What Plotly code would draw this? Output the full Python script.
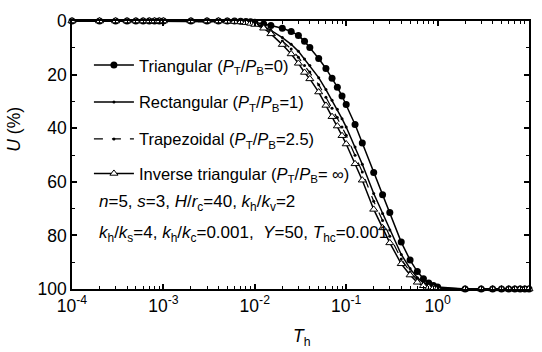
import plotly.graph_objects as go

# ---- data ----
T = [1e-4, 2e-4, 3e-4, 4e-4, 5e-4, 6e-4, 7e-4, 8e-4, 9e-4,
     1e-3, 2e-3, 3e-3, 4e-3, 5e-3, 6e-3, 7e-3, 8e-3, 9e-3,
     0.01, 0.0125, 0.015, 0.02, 0.025, 0.03, 0.035, 0.04, 0.05, 0.06, 0.07, 0.08, 0.09,
     0.1, 0.125, 0.15, 0.2, 0.25, 0.3, 0.4, 0.5, 0.6, 0.7, 0.8, 0.9,
     1, 2, 3, 4, 5, 6, 7, 8, 9, 10]

U_triangular = [0, 0, 0, 0, 0, 0, 0, 0, 0,
                0, 0, 0, 0, 0, 0, 0.05, 0.15, 0.3,
                0.5, 1.1, 1.7, 2.7, 3.9, 5.4, 7.6, 9.9, 14.0, 17.7, 21.4, 24.7, 28.0,
                31.2, 38.6, 45.5, 56.5, 64.8, 71.5, 82.5, 89.2, 93.5, 96.2, 97.8, 98.7,
                99.3, 100, 100, 100, 100, 100, 100, 100, 100, 100]

U_rectangular = [0, 0, 0, 0, 0, 0, 0, 0, 0,
                 0, 0, 0, 0, 0.06, 0.11, 0.22, 0.41, 0.64,
                 0.96, 2.0, 3.47, 6.18, 8.69, 11.33, 14.17, 16.61, 21.13, 25.57, 29.55, 32.97, 36.44,
                 39.58, 46.98, 53.42, 64.37, 71.87, 77.94, 87.12, 92.39, 95.78, 97.68, 98.71, 99.27,
                 99.64, 100, 100, 100, 100, 100, 100, 100, 100, 100]

U_trapezoidal = [0, 0, 0, 0, 0, 0, 0, 0, 0,
                 0, 0, 0, 0, 0.08, 0.16, 0.28, 0.5, 0.77,
                 1.12, 2.35, 4.12, 7.46, 10.45, 13.51, 16.63, 19.05, 23.75, 28.46, 32.55, 36.01, 39.54,
                 42.67, 50.07, 56.34, 67.26, 74.47, 80.31, 88.82, 93.57, 96.62, 98.23, 99.05, 99.48,
                 99.77, 100, 100, 100, 100, 100, 100, 100, 100, 100]

U_inverse = [0, 0, 0, 0, 0, 0, 0, 0, 0,
             0, 0, 0, 0, 0.1, 0.2, 0.35, 0.6, 0.9,
             1.3, 2.7, 4.8, 8.8, 12.3, 15.8, 19.2, 21.6, 26.5, 31.5, 35.7, 39.2, 42.8,
             45.9, 53.3, 59.4, 70.3, 77.2, 82.8, 90.6, 94.8, 97.5, 98.8, 99.4, 99.7,
             99.9, 100, 100, 100, 100, 100, 100, 100, 100, 100]

names = ["Triangular (<i>P</i><sub>T</sub>/<i>P</i><sub>B</sub>=0)",
         "Rectangular (<i>P</i><sub>T</sub>/<i>P</i><sub>B</sub>=1)",
         "Trapezoidal (<i>P</i><sub>T</sub>/<i>P</i><sub>B</sub>=2.5)",
         "Inverse triangular (<i>P</i><sub>T</sub>/<i>P</i><sub>B</sub>= \u221e)"]

x_tickvals = [1e-4, 1e-3, 1e-2, 1e-1, 1, 10]
x_ticktext = ["10<sup>-4</sup>", "10<sup>-3</sup>", "10<sup>-2</sup>",
              "10<sup>-1</sup>", "10<sup>0</sup>", "10<sup>1</sup>"]
x_minor = [k * 10.0 ** e for e in range(-4, 1) for k in range(2, 10)]

# ---- figure ----
FONT = "Liberation Sans, Arial, sans-serif"
W, H = 542, 352
L, R, TOP, B = 72, 11, 17, 63
pw, ph = W - L - R, H - TOP - B

def px(xp):
    return (xp - L) / pw

def py(yp):
    return (H - B - yp) / ph

fig = go.Figure()
styles = [
    dict(line=dict(color="black", width=1.5), marker=dict(symbol="circle", size=7, color="black")),
    dict(line=dict(color="black", width=1.5), marker=dict(symbol="circle", size=3, color="black")),
    dict(line=dict(color="black", width=1.2, dash="dash"), marker=dict(symbol="circle", size=3, color="black")),
    dict(line=dict(color="black", width=1.5),
         marker=dict(symbol="triangle-up", size=7, color="white", line=dict(color="black", width=1))),
]
series = [U_triangular, U_rectangular, U_trapezoidal, U_inverse]
legend_ids = ["legend", "legend2", "legend3", "legend4"]
for i in range(4):
    fig.add_trace(go.Scatter(x=T, y=series[i], mode="lines+markers", name=names[i],
                             cliponaxis=False, legend=legend_ids[i], **styles[i]))

legend_y = [62, 99.5, 137, 172]
common_leg = dict(bgcolor="rgba(0,0,0,0)", borderwidth=0, font=dict(family=FONT, size=16.5, color="black"),
                  xanchor="left", yanchor="middle", itemwidth=40)
layout_leg = {}
for i, lid in enumerate(legend_ids):
    layout_leg[lid] = dict(x=px(89), y=py(legend_y[i]), **common_leg)

fig.update_layout(
    width=W, height=H,
    margin=dict(l=L, r=R, t=TOP, b=B),
    paper_bgcolor="white", plot_bgcolor="white",
    font=dict(family=FONT, size=17, color="black"),
    showlegend=True,
    **layout_leg,
)

fig.update_xaxes(type="log", range=[-4, 1], tickvals=x_tickvals, ticktext=x_ticktext,
                 ticks="inside", ticklen=5, tickwidth=1.5, tickcolor="black",
                 showline=True, linecolor="black", linewidth=1.5, mirror="ticks",
                 showgrid=False, zeroline=False, tickfont=dict(family=FONT, size=17.5),
                 minor=dict(tickvals=x_minor, ticks="inside", ticklen=3, tickwidth=1, tickcolor="black",
                            showgrid=False))
fig.update_yaxes(range=[100, 0], tickvals=[0, 20, 40, 60, 80, 100],
                 ticks="inside", ticklen=5, tickwidth=1.5, tickcolor="black",
                 showline=True, linecolor="black", linewidth=1.5, mirror="ticks",
                 showgrid=False, zeroline=False, tickfont=dict(family=FONT, size=17.5),
                 minor=dict(dtick=10, ticks="inside", ticklen=3, tickwidth=1, tickcolor="black",
                            showgrid=False))

ann_font = dict(family=FONT, size=17, color="black")
fig.add_annotation(xref="paper", yref="paper", x=px(97), y=py(202), xanchor="left", yanchor="middle",
                   showarrow=False, font=ann_font,
                   text="<i>n</i>=5, <i>s</i>=3, <i>H</i>/<i>r</i><sub>c</sub>=40, "
                        "<i>k</i><sub>h</sub>/<i>k</i><sub>v</sub>=2")
fig.add_annotation(xref="paper", yref="paper", x=px(97), y=py(233), xanchor="left", yanchor="middle",
                   showarrow=False, font=ann_font,
                   text="<i>k</i><sub>h</sub>/<i>k</i><sub>s</sub>=4, <i>k</i><sub>h</sub>/<i>k</i><sub>c</sub>=0.001, "
                        " <i>Y</i>=50, <i>T</i><sub>hc</sub>=0.001")
# axis titles
fig.add_annotation(xref="paper", yref="paper", x=px(14), y=py(127), xanchor="center", yanchor="middle",
                   showarrow=False, textangle=-90, font=dict(family=FONT, size=17.5, color="black"),
                   text="<i>U</i> (%)")
fig.add_annotation(xref="paper", yref="paper", x=px(303), y=py(338), xanchor="center", yanchor="middle",
                   showarrow=False, font=dict(family=FONT, size=17.5, color="black"),
                   text="<i>T</i><sub>h</sub>")

fig.write_html("out.html")
